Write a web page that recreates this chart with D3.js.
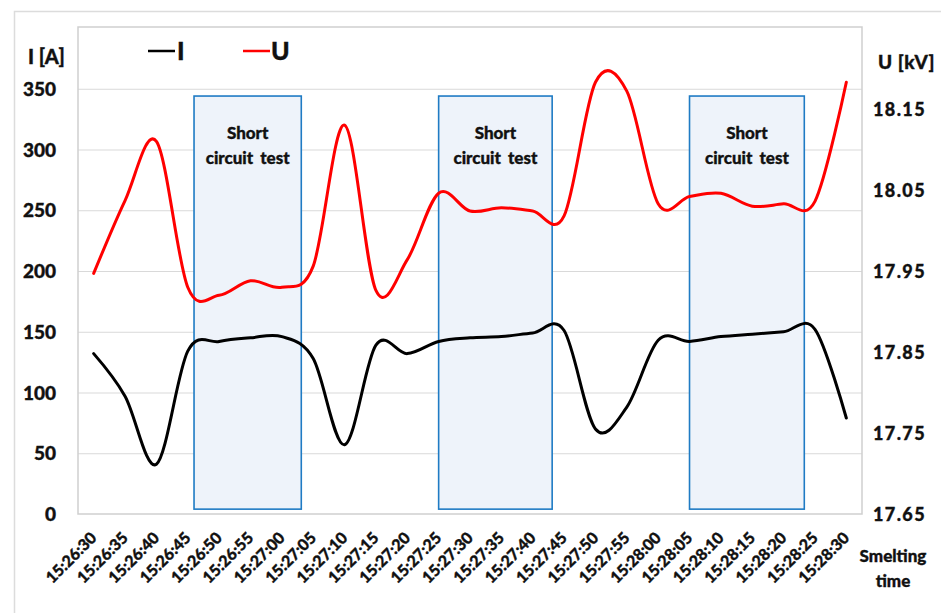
<!DOCTYPE html>
<html>
<head>
<meta charset="utf-8">
<script src="https://cdn.jsdelivr.net/npm/d3@7"></script>
<style>
  html, body { margin: 0; padding: 0; background: #fff; }
  svg { display: block; }
  text { font-family: Lato, "Liberation Sans", Arial, sans-serif; font-weight: 900; fill: #111; stroke: #111; stroke-width: 0.35px; }
</style>
</head>
<body>
<svg id="chart" width="941" height="613"></svg>
<script>
// Smelting time stamps (5 s apart)
const times = [
  "15:26:30", "15:26:35", "15:26:40", "15:26:45", "15:26:50", "15:26:55",
  "15:27:00", "15:27:05", "15:27:10", "15:27:15", "15:27:20", "15:27:25",
  "15:27:30", "15:27:35", "15:27:40", "15:27:45", "15:27:50", "15:27:55",
  "15:28:00", "15:28:05", "15:28:10", "15:28:15", "15:28:20", "15:28:25",
  "15:28:30"
];

// Arc current I [A]
const currentA = [
  132, 97, 41, 134, 142, 145, 146, 128, 57, 139, 132, 142,
  145, 146, 149, 151, 70, 88, 143, 142, 146, 148, 150, 152, 79
];

// Voltage U [kV]
const voltageKV = [
  17.947, 18.037, 18.110, 17.930, 17.920, 17.938, 17.930, 17.956, 18.130,
  17.926, 17.964, 18.046, 18.024, 18.028, 18.024, 18.018, 18.183, 18.172,
  18.033, 18.042, 18.046, 18.030, 18.033, 18.036, 18.183
];

// Short circuit test windows, seconds after 15:26:30
const testStart = [16, 55, 95];
const testEnd = [33.1, 73.1, 113.3];

const leftTicks = [0, 50, 100, 150, 200, 250, 300, 350];
const rightTicks = [17.65, 17.75, 17.85, 17.95, 18.05, 18.15];

const svg = d3.select("#chart");
const plot = { left: 78, right: 862, top: 27, bottom: 514 };

const x = d3.scalePoint().domain(times).range([plot.left, plot.right]).padding(0.5);
const xSec = d3.scaleLinear().domain([0, 120]).range([x(times[0]), x(times[times.length - 1])]);
const yI = d3.scaleLinear().domain([0, 400]).range([plot.bottom, 28]);
const yU = d3.scaleLinear().domain([17.65, 18.25]).range([plot.bottom, 28]);

// outer frame
svg.append("rect")
  .attr("x", 14.5).attr("y", 11.5).attr("width", 940).attr("height", 620)
  .attr("fill", "none").attr("stroke", "#dcdcdc").attr("stroke-width", 1.5);

// horizontal gridlines
svg.append("g")
  .attr("transform", `translate(${plot.left},0)`)
  .call(d3.axisLeft(yI).tickValues(leftTicks.slice(1)).tickSize(-(plot.right - plot.left)).tickFormat(""))
  .call(g => g.select(".domain").remove())
  .call(g => g.selectAll("line").attr("stroke", "#d9d9d9").attr("stroke-width", 1.2));

// plot area border
svg.append("rect")
  .attr("x", plot.left).attr("y", plot.top)
  .attr("width", plot.right - plot.left).attr("height", plot.bottom - plot.top)
  .attr("fill", "none").attr("stroke", "#cfcfcf").attr("stroke-width", 1.5);

// short circuit test windows
const boxes = svg.append("g");
testStart.forEach((s, i) => {
  const x0 = xSec(s), x1 = xSec(testEnd[i]);
  boxes.append("rect")
    .attr("x", x0).attr("y", yI(344))
    .attr("width", x1 - x0).attr("height", yI(4) - yI(344))
    .attr("fill", "#eef3fa").attr("stroke", "#1f7bc4").attr("stroke-width", 1.6);
  const cx = (x0 + x1) / 2;
  boxes.append("text").attr("x", cx).attr("y", 139)
    .attr("text-anchor", "middle").attr("font-size", 17).text("Short");
  boxes.append("text").attr("x", cx).attr("y", 164)
    .attr("text-anchor", "middle").attr("font-size", 17).attr("word-spacing", 3).text("circuit test");
});

// series
const lineI = d3.line()
  .x((d, i) => x(times[i]))
  .y(d => yI(d))
  .curve(d3.curveCardinal.tension(0));
const lineU = d3.line()
  .x((d, i) => x(times[i]))
  .y(d => yU(d))
  .curve(d3.curveCardinal.tension(0));

svg.append("path").datum(currentA)
  .attr("d", lineI).attr("fill", "none").attr("stroke", "#000")
  .attr("stroke-width", 3).attr("stroke-linejoin", "round").attr("stroke-linecap", "round");
svg.append("path").datum(voltageKV)
  .attr("d", lineU).attr("fill", "none").attr("stroke", "#ff0000")
  .attr("stroke-width", 3).attr("stroke-linejoin", "round").attr("stroke-linecap", "round");

// left axis labels
svg.append("g")
  .attr("transform", "translate(62,0)")
  .call(d3.axisLeft(yI).tickValues(leftTicks).tickSize(0).tickPadding(6))
  .call(g => g.select(".domain").remove())
  .call(g => g.selectAll("text").attr("font-size", 19).attr("font-family", null).attr("fill", "#111").attr("dy", "0.35em"));

// right axis labels
svg.append("g")
  .attr("transform", "translate(866,0)")
  .call(d3.axisRight(yU).tickValues(rightTicks).tickSize(0).tickPadding(7).tickFormat(d3.format(".2f")))
  .call(g => g.select(".domain").remove())
  .call(g => g.selectAll("text").attr("font-size", 18).attr("font-family", null).attr("fill", "#111")
    .attr("letter-spacing", 1.4).attr("dy", "0.35em"));

// x axis labels
svg.append("g")
  .selectAll("text")
  .data(times)
  .join("text")
  .attr("text-anchor", "end")
  .attr("font-size", 16)
  .attr("transform", d => `translate(${x(d) + 4},${plot.bottom + 25}) rotate(-45)`)
  .text(d => d);

// axis titles
svg.append("text").attr("x", 28).attr("y", 64).attr("font-size", 20).text("I [A]");
svg.append("text").attr("x", 878).attr("y", 69).attr("font-size", 19).attr("letter-spacing", 0.5).text("U [kV]");
svg.append("text").attr("x", 893).attr("y", 562).attr("text-anchor", "middle").attr("font-size", 17).text("Smelting");
svg.append("text").attr("x", 893).attr("y", 587).attr("text-anchor", "middle").attr("font-size", 17).text("time");

// legend
const legend = svg.append("g");
legend.append("line").attr("x1", 148).attr("x2", 175).attr("y1", 51).attr("y2", 51)
  .attr("stroke", "#000").attr("stroke-width", 2.5);
legend.append("text").attr("x", 177).attr("y", 60).attr("font-size", 25).text("I");
legend.append("line").attr("x1", 243).attr("x2", 270).attr("y1", 51).attr("y2", 51)
  .attr("stroke", "#ff0000").attr("stroke-width", 2.5);
legend.append("text").attr("x", 271).attr("y", 60).attr("font-size", 25).text("U");
</script>
</body>
</html>
